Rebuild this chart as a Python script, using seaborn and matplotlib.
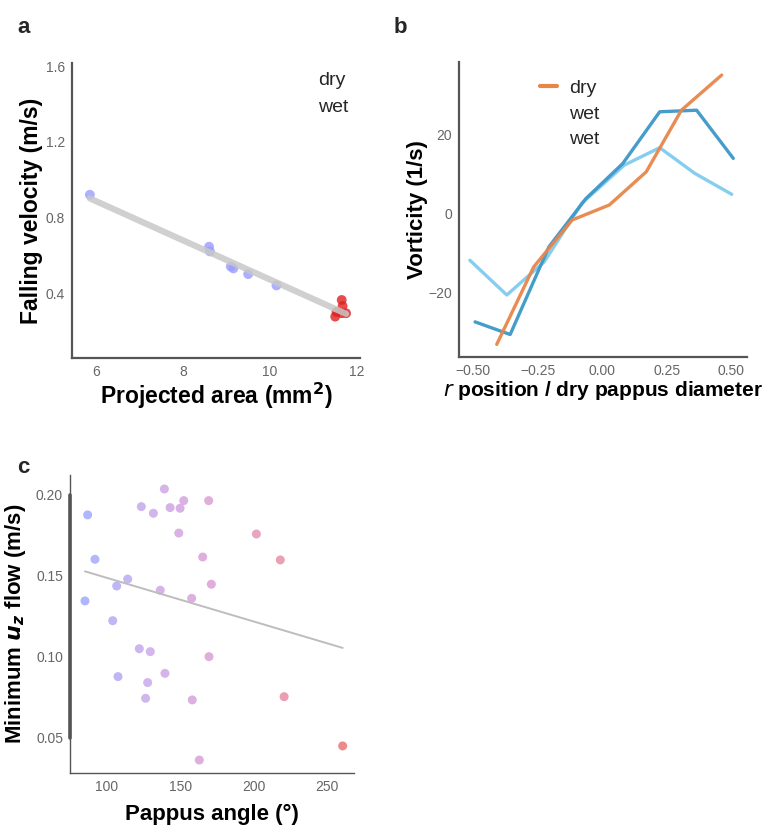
import numpy as np
import pandas as pd
import matplotlib
matplotlib.use('Agg')
import matplotlib.pyplot as plt
from matplotlib.lines import Line2D
from matplotlib.colors import LinearSegmentedColormap
import seaborn as sns

# a) projected area vs falling velocity
area_wet = [5.86, 8.6, 8.62, 9.1, 9.16, 9.5, 10.15]
vel_wet = [0.92, 0.645, 0.62, 0.54, 0.53, 0.50, 0.44]
area_dry = [11.65, 11.67, 11.53, 11.75, 11.65, 11.5]
vel_dry = [0.363, 0.331, 0.30, 0.293, 0.293, 0.275]

# b) vorticity profiles
r_dry = [-0.409, -0.266, -0.117, 0.027, 0.170, 0.306, 0.462]
vort_dry = [-33.1, -13.5, -1.6, 2.2, 10.6, 26.2, 35.1]
r_wet1 = [-0.493, -0.357, -0.207, -0.064, 0.079, 0.222, 0.365, 0.507]
vort_wet1 = [-27.4, -30.6, -8.4, 3.8, 12.7, 25.8, 26.2, 14.0]
r_wet2 = [-0.513, -0.370, -0.225, -0.080, 0.085, 0.222, 0.358, 0.501]
vort_wet2 = [-11.8, -20.6, -12.2, 2.6, 12.3, 16.7, 10.2, 4.9]

# c) pappus angle vs minimum uz flow
angle = [86.8, 91.8, 85.0, 103.9, 106.6, 114.1, 107.5, 122.0, 129.5, 127.7,
         126.3, 123.4, 131.6, 139.1, 143.0, 149.8, 152.3, 148.9, 136.3, 139.5,
         157.7, 158.1, 162.9, 165.2, 169.3, 171.1, 169.5, 201.8, 218.1, 220.7,
         260.6]
min_flow = [0.1877, 0.1603, 0.1346, 0.1224, 0.1438, 0.1481, 0.0879, 0.1051,
            0.1033, 0.0842, 0.0745, 0.1928, 0.1887, 0.2037, 0.1922, 0.1918,
            0.1965, 0.1765, 0.1412, 0.0899, 0.1362, 0.0735, 0.0364, 0.1617,
            0.1965, 0.1449, 0.1002, 0.1759, 0.1599, 0.0755, 0.0451]

ticks_a_x = [6, 8, 10, 12]
ticks_a_y = [0.4, 0.8, 1.2, 1.6]
ticks_b_x = [-0.50, -0.25, 0.00, 0.25, 0.50]
ticks_b_y = [-20, 0, 20]
ticks_c_x = [100, 150, 200, 250]
ticks_c_y = [0.05, 0.10, 0.15, 0.20]

sns.set_style('white')
plt.rcParams['font.family'] = ['Liberation Sans', 'DejaVu Sans']

spine_col = '#555555'
tick_col = '#666666'
lab_kw = dict(fontsize=16, fontweight='bold', color='black')

fig = plt.figure(figsize=(7.72, 8.27), dpi=100)
ax_a = fig.add_axes([0.0933, 0.5671, 0.373, 0.3567])
ax_b = fig.add_axes([0.5946, 0.5683, 0.373, 0.3567])
ax_c = fig.add_axes([0.0907, 0.0653, 0.368, 0.3603])


def style(ax):
    sns.despine(ax=ax)
    for s in ['left', 'bottom']:
        ax.spines[s].set_color(spine_col)
        ax.spines[s].set_linewidth(1.6)
    ax.tick_params(axis='both', length=3, width=1, color=spine_col,
                   labelcolor=tick_col, labelsize=10, pad=2)
    ax.grid(False)


# ---- a
df_a = pd.DataFrame({
    'area': area_wet + area_dry,
    'vel': vel_wet + vel_dry,
    'state': ['wet'] * len(area_wet) + ['dry'] * len(area_dry),
})
sns.scatterplot(data=df_a, x='area', y='vel', hue='state',
                palette={'wet': '#9a9cff', 'dry': '#e01f1f'}, s=50,
                alpha=0.8, edgecolor='none', legend=False, ax=ax_a)
sns.regplot(data=df_a, x='area', y='vel', scatter=False, ci=None,
            color='#c8c8c8', line_kws=dict(lw=4.5, alpha=0.85), ax=ax_a)
ax_a.set_xlim(5.45, 12.07)
ax_a.set_ylim(0.056, 1.617)
ax_a.set_xticks(ticks_a_x)
ax_a.set_yticks(ticks_a_y)
ax_a.set_xticklabels([str(t) for t in ticks_a_x])
ax_a.set_yticklabels([f'{t:.1f}' for t in ticks_a_y])
ax_a.set_xlabel('Projected area (mm$^{\\mathbf{2}}$)', labelpad=1,
                fontsize=16.5, fontweight='bold', color='black')
ax_a.set_ylabel('Falling velocity (m/s)', labelpad=2,
                fontsize=16.5, fontweight='bold', color='black')
style(ax_a)
h_a = [Line2D([], [], color='none') for _ in range(2)]
ax_a.legend(h_a, ['dry', 'wet'], loc='upper right', frameon=False,
            handlelength=0, handletextpad=0, fontsize=14,
            bbox_to_anchor=(1.02, 1.03), labelspacing=0.45)

# ---- b
df_b = pd.DataFrame({
    'r': r_dry + r_wet1 + r_wet2,
    'vort': vort_dry + vort_wet1 + vort_wet2,
    'series': ['dry'] * len(r_dry) + ['wet1'] * len(r_wet1) + ['wet2'] * len(r_wet2),
})
pal_b = {'dry': '#e8864a', 'wet1': '#3d98c8', 'wet2': '#80cbef'}
sns.lineplot(data=df_b, x='r', y='vort', hue='series', palette=pal_b,
             hue_order=['wet2', 'wet1', 'dry'], sort=False, lw=2.4,
             alpha=0.95, legend=False, ax=ax_b)
ax_b.set_xlim(-0.555, 0.56)
ax_b.set_ylim(-36.3, 38.4)
ax_b.set_xticks(ticks_b_x)
ax_b.set_yticks(ticks_b_y)
ax_b.set_xticklabels([f'{t:.2f}'.replace('-', '\u2212') for t in ticks_b_x])
ax_b.set_xlabel('$\\mathit{r}$ position / dry pappus diameter', labelpad=1,
                fontsize=15, fontweight='bold', color='black')
ax_b.set_ylabel('Vorticity (1/s)', labelpad=0, **lab_kw)
style(ax_b)
h_b = [Line2D([], [], color=pal_b['dry'], lw=3),
       Line2D([], [], color='none'), Line2D([], [], color='none')]
ax_b.legend(h_b, ['dry', 'wet', 'wet'], loc='upper left', frameon=False,
            bbox_to_anchor=(0.22, 1.0), fontsize=14, handlelength=0.9,
            handletextpad=0.6, labelspacing=0.4)

# ---- c
df_c = pd.DataFrame({'angle': angle, 'flow': min_flow})
cmap_c = LinearSegmentedColormap.from_list(
    'pap', ['#a7aefd', '#cdaeea', '#dfa4d6', '#e996ad', '#ee7c7e'])
sns.regplot(data=df_c, x='angle', y='flow', scatter=False, ci=None,
            color='#bdbdbd', line_kws=dict(lw=1.4), ax=ax_c)
sns.scatterplot(data=df_c, x='angle', y='flow', hue='angle', palette=cmap_c,
                hue_norm=(85, 262), s=42, alpha=0.9, edgecolor='none',
                legend=False, ax=ax_c)
ax_c.set_xlim(74.8, 268.4)
ax_c.set_ylim(0.0284, 0.2123)
ax_c.set_xticks(ticks_c_x)
ax_c.set_yticks(ticks_c_y)
ax_c.set_yticklabels([f'{t:.2f}' for t in ticks_c_y])
ax_c.set_xlabel('Pappus angle (°)', labelpad=7, **lab_kw)
ax_c.set_ylabel('Minimum $\\mathbfit{u_z}$ flow (m/s)', labelpad=6, **lab_kw)
style(ax_c)
ax_c.spines['left'].set_linewidth(1.0)
ax_c.spines['bottom'].set_linewidth(1.0)
ax_c.plot([0, 0], [min(ticks_c_y), max(ticks_c_y)], color=spine_col, lw=2.6,
          transform=ax_c.get_yaxis_transform(), clip_on=False, zorder=5)

for lab, x, y in [('a', 0.022, 0.98), ('b', 0.51, 0.98), ('c', 0.022, 0.447)]:
    fig.text(x, y, lab, fontsize=16, fontweight='bold', va='top', ha='left')

fig.savefig('out.png', dpi=100)
